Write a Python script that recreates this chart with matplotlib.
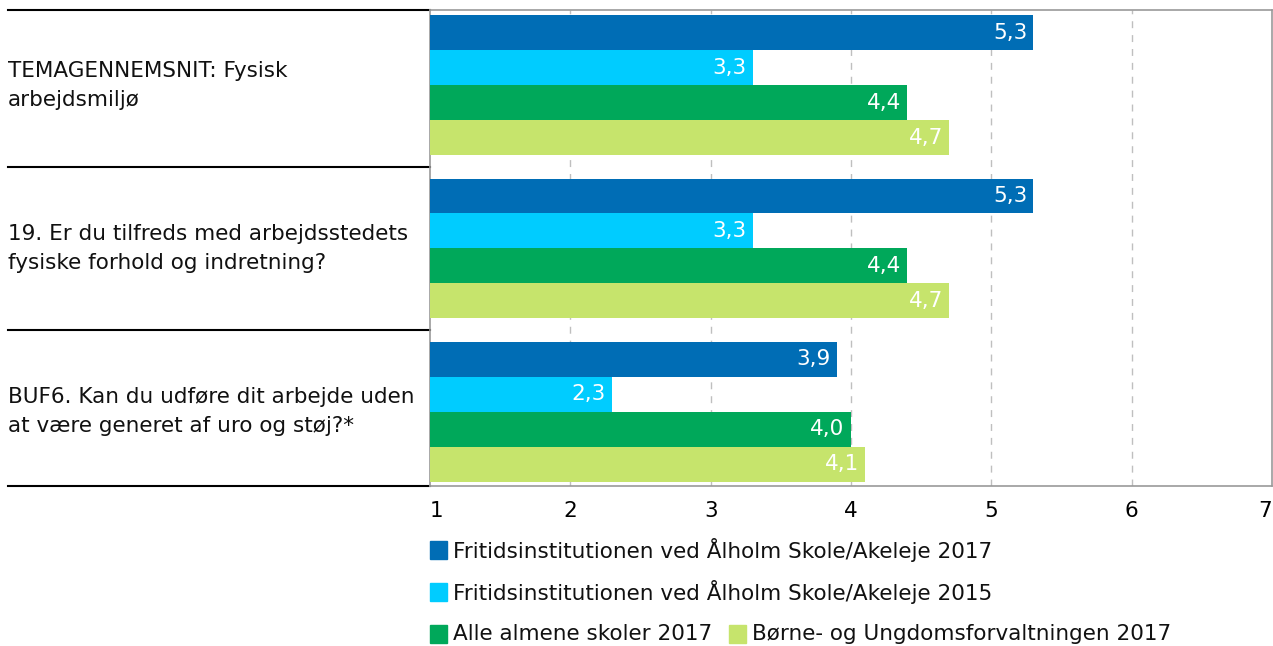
import numpy as np
import matplotlib
matplotlib.use("Agg")
import matplotlib.pyplot as plt
from matplotlib.patches import Rectangle
import matplotlib.transforms as mtransforms

# data
questions = [
    "TEMAGENNEMSNIT: Fysisk\narbejdsmiljø",
    "19. Er du tilfreds med arbejdsstedets\nfysiske forhold og indretning?",
    "BUF6. Kan du udføre dit arbejde uden\nat være generet af uro og støj?*",
]
series_names = [
    "Fritidsinstitutionen ved Ålholm Skole/Akeleje 2017",
    "Fritidsinstitutionen ved Ålholm Skole/Akeleje 2015",
    "Alle almene skoler 2017",
    "Børne- og Ungdomsforvaltningen 2017",
]
akeleje_2017 = [5.3, 5.3, 3.9]
akeleje_2015 = [3.3, 3.3, 2.3]
almene_2017 = [4.4, 4.4, 4.0]
buf_2017 = [4.7, 4.7, 4.1]
colors = ["#006DB5", "#00CCFF", "#00A85A", "#C6E46C"]
xticks = [1, 2, 3, 4, 5, 6, 7]

plt.rcParams['font.family'] = ['DejaVu Sans']
FS = 15.5
W, H = 1273, 646
fig = plt.figure(figsize=(W / 100, H / 100), dpi=100)
ax = fig.add_axes([430 / W, 1 - 486 / H, 842 / W, 476 / H])

bar_h = 0.214
all_vals = [akeleje_2017, akeleje_2015, almene_2017, buf_2017]
for s, vals in enumerate(all_vals):
    for i, v in enumerate(vals):
        yc = i + (s - 1.5) * bar_h
        ax.barh(yc, v - 1, left=1, height=bar_h, color=colors[s], zorder=3)
        ax.text(v - 0.045, yc, f"{v:.1f}".replace(".", ","), ha="right", va="center",
                color="white", fontsize=FS, zorder=4)

ax.set_xlim(1, 7)
ax.set_ylim(2.455, -0.46)
ax.set_yticks([])
ax.set_xticks(xticks)
ax.set_xticklabels([str(t) for t in xticks], fontsize=FS)
labs = ax.get_xticklabels()
labs[0].set_ha("left")
labs[-1].set_ha("right")
ax.tick_params(axis="x", length=0, pad=11)
for x in xticks[1:-1]:
    ax.axvline(x, color="#BFBFBF", linestyle=(0, (5, 5)), linewidth=1, zorder=1)
for sp in ax.spines.values():
    sp.set_color("#999999")
    sp.set_linewidth(1.2)

# category separators and labels to the left
trans = mtransforms.blended_transform_factory(fig.transFigure, ax.transData)
for yl in [-0.46, 0.5, 1.5, 2.455]:
    ax.plot([8 / W, 430 / W], [yl, yl], transform=trans, color="black",
            linewidth=1.5, clip_on=False)
for i, q in enumerate(questions):
    ax.text(8 / W, i, q, transform=trans, ha="left", va="center", fontsize=FS,
            linespacing=1.55, color="#111111")

# legend in flow layout
rows = [[0], [1], [2, 3]]
row_y = [550, 592, 634]
x_start = 430
for r, idxs in zip(row_y, rows):
    x = x_start
    for k in idxs:
        fig.patches.append(Rectangle((x / W, 1 - (r + 9) / H), 17 / W, 18 / H,
                                     transform=fig.transFigure, color=colors[k]))
        t = fig.text((x + 23) / W, 1 - r / H, series_names[k], ha="left",
                     va="center", fontsize=FS, color="#111111")
        fig.canvas.draw()
        bb = t.get_window_extent()
        x = bb.x1 + 17

fig.savefig("out.png", dpi=100)
